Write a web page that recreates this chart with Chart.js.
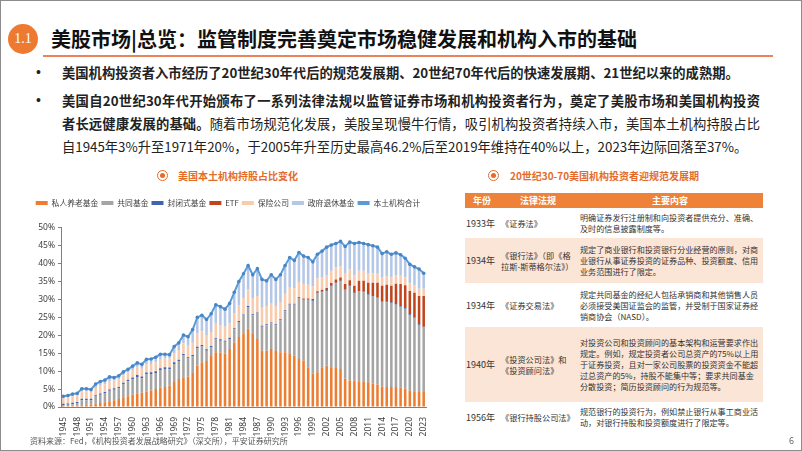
<!DOCTYPE html>
<html>
<head>
<meta charset="utf-8">
<script src="https://cdn.jsdelivr.net/npm/chart.js@4"></script>
<style>
  html, body { margin: 0; padding: 0; background: #fff; }
  body { width: 802px; height: 451px; position: relative; overflow: hidden;
         font-family: "Noto Sans CJK SC", "Noto Sans", sans-serif; color: #222; }
  #frame { position: absolute; left: 0; top: 0; width: 800px; height: 449px; border: 1px solid #8c8c8c; }
  .badge { position: absolute; left: 8px; top: 24px; width: 30px; height: 30px; border-radius: 50%;
           background: #EE7A31; color: #fff; font: 14px "Liberation Serif", serif; text-align: center; line-height: 30px; }
  .title { position: absolute; left: 51px; top: 24px; font-size: 20px; font-weight: bold; color: #111; white-space: nowrap; }
  .rule { position: absolute; left: 43px; top: 55px; width: 730px; height: 2px; background: #E8845A; }
  .dot { position: absolute; left: 36px; font: 14px "Liberation Sans", sans-serif; }
  .ln { position: absolute; left: 62px; font-size: 13.3px; line-height: 23px; white-space: nowrap; }
  .just { width: 698px; text-align: justify; text-align-last: justify; white-space: normal; }
  .b { font-weight: bold; }
  .sub { position: absolute; font-size: 10px; font-weight: bold; color: #E46C2B; white-space: nowrap; line-height: 14px; }
  .ring { position: absolute; width: 9px; height: 9px; border: 1.5px solid #E46C2B; border-radius: 50%; }
  .ring::after { content: ""; position: absolute; left: 2px; top: 2px; width: 5px; height: 5px; border-radius: 50%; background: #E46C2B; }
  #chartBox { position: absolute; left: 30px; top: 190px; width: 412px; height: 250px; }
  table { position: absolute; left: 465px; top: 193px; width: 298px; border-collapse: collapse; table-layout: fixed; }
  td, th { padding: 0; vertical-align: middle; color: #333; }
  th { background: #EE8238; color: #fff; font-size: 9px; font-weight: bold; height: 15px; text-align: center; }
  td.y { font-size: 9px; padding-left: 1px; }
  td.l { font-size: 8.2px; line-height: 11px; padding-left: 2px; white-space: nowrap; }
  td.c { font-size: 8.1px; line-height: 11px; padding-left: 3px; white-space: nowrap; }
  tr.pk td { background: #FBE5D6; }
  .foot { position: absolute; left: 30px; top: 435px; font-size: 8px; color: #555; white-space: nowrap; }
  .page { position: absolute; left: 789px; top: 434px; font-size: 9px; color: #666; }
</style>
</head>
<body>
<div id="frame"></div>
<div class="badge">1.1</div>
<div class="title">美股市场|总览：监管制度完善奠定市场稳健发展和机构入市的基础</div>
<div class="rule"></div>

<div class="dot" style="top:64px">•</div>
<div class="ln b" style="top:61px">美国机构投资者入市经历了20世纪30年代后的规范发展期、20世纪70年代后的快速发展期、21世纪以来的成熟期。</div>
<div class="dot" style="top:92px">•</div>
<div class="ln just b" style="top:89px">美国自20世纪30年代开始颁布了一系列法律法规以监管证券市场和机构投资者行为，奠定了美股市场和美国机构投资</div>
<div class="ln just" style="top:112px"><span class="b">者长远健康发展的基础。</span>随着市场规范化发展，美股呈现慢牛行情，吸引机构投资者持续入市，美国本土机构持股占比</div>
<div class="ln" style="top:135px">自1945年3%升至1971年20%，于2005年升至历史最高46.2%后至2019年维持在40%以上，2023年边际回落至37%。</div>

<div class="ring" style="left:157px; top:170px"></div>
<div class="sub" style="left:178px; top:169px">美国本土机构持股占比变化</div>
<div class="ring" style="left:488px; top:170px"></div>
<div class="sub" style="left:510px; top:169px">20世纪30-70美国机构投资者迎规范发展期</div>

<div id="chartBox"><canvas id="c"></canvas></div>

<table>
  <colgroup><col style="width:34px"><col style="width:78px"><col style="width:186px"></colgroup>
  <tr><th>年份</th><th>法律法规</th><th>主要内容</th></tr>
  <tr style="height:30px"><td class="y">1933年</td><td class="l">《证券法》</td>
    <td class="c">明确证券发行注册制和向投资者提供充分、准确、<br>及时的信息披露制度等。</td></tr>
  <tr class="pk" style="height:45px"><td class="y">1934年</td><td class="l">《银行法》（即《格<br>拉斯-斯蒂格尔法》）</td>
    <td class="c">规定了商业银行和投资银行分业经营的原则，对商<br>业银行从事证券投资的证券品种、投资额度、信用<br>业务范围进行了限定。</td></tr>
  <tr style="height:44px"><td class="y">1934年</td><td class="l">《证券交易法》</td>
    <td class="c">规定共同基金的经纪人包括承销商和其他销售人员<br>必须接受美国证监会的监管，并受制于国家证券经<br>销商协会（NASD）。</td></tr>
  <tr class="pk" style="height:75px"><td class="y">1940年</td><td class="l">《投资公司法》和<br>《投资顾问法》</td>
    <td class="c">对投资公司和投资顾问的基本架构和运营要求作出<br>规定。例如，规定投资者公司总资产的75%以上用<br>于证券投资，且对一家公司股票的投资资金不能超<br>过总资产的5%，持股不能集中等；要求共同基金<br>分散投资；简历投资顾问的行为规范等。</td></tr>
  <tr style="height:30px"><td class="y">1956年</td><td class="l">《银行持股公司法》</td>
    <td class="c">规范银行的投资行为，例如禁止银行从事工商业活<br>动，对银行持股和投资额度进行了限定等。</td></tr>
</table>

<div class="foot">资料来源：Fed，《机构投资者发展战略研究》（深交所），平安证券研究所</div>
<div class="page">6</div>

<script>
const years = ["1945","1946","1947","1948","1949","1950","1951","1952","1953","1954",
  "1955","1956","1957","1958","1959","1960","1961","1962","1963","1964",
  "1965","1966","1967","1968","1969","1970","1971","1972","1973","1974",
  "1975","1976","1977","1978","1979","1980","1981","1982","1983","1984",
  "1985","1986","1987","1988","1989","1990","1991","1992","1993","1994",
  "1995","1996","1997","1998","1999","2000","2001","2002","2003","2004",
  "2005","2006","2007","2008","2009","2010","2011","2012","2013","2014",
  "2015","2016","2017","2018","2019","2020","2021","2022","2023"];

// 私人养老基金
const pension = [0.3,0.3,0.4,0.4,0.5,0.6,0.7,0.9,1.1,1.3,
  1.6,1.9,2.2,2.5,3.0,3.5,3.8,4.0,4.3,4.6,
  5.0,5.4,5.6,5.9,7.0,7.8,8.3,8.5,9.5,11.5,
  12.5,12.8,14.2,15.3,15.2,14.9,16.2,18.0,19.5,20.6,
  21.8,20.4,19.0,15.7,15.7,16.2,15.6,15.3,15.3,15.0,
  14.4,13.4,13.0,11.1,9.3,9.7,11.1,11.6,11.1,10.9,
  10.6,7.9,7.4,7.4,7.2,7.2,6.9,6.5,6.3,5.7,
  5.6,5.6,5.6,5.4,5.1,4.6,4.4,4.4,4.2];

// 共同基金
const mutual = [0.2,0.3,0.4,0.6,1.4,1.3,1.2,2.0,2.3,2.5,
  2.9,2.9,3.0,3.9,4.2,4.2,4.6,4.0,4.8,4.6,
  4.5,4.9,5.0,4.6,5.0,5.0,6.1,5.0,4.6,4.9,
  4.4,2.9,2.4,3.5,3.3,3.3,2.8,3.7,4.2,4.9,
  6.1,5.2,7.1,6.7,7.1,7.1,7.2,8.9,11.4,13.5,
  14.1,17.0,16.9,18.8,20.3,22.0,20.9,20.8,22.5,23.6,
  24.4,24.8,26.2,24.3,25.0,24.8,24.4,24.3,24.2,23.7,
  23.6,23.4,22.9,22.6,22.3,21.1,20.4,18.5,18.0];

// 封闭式基金
const closedEnd = [0.4,0.4,0.4,0.4,0.4,0.4,0.4,0.4,0.4,0.4,
  0.4,0.4,0.4,0.4,0.4,0.5,0.5,0.5,0.5,0.5,
  0.5,0.5,0.5,0.5,0.5,0.4,0.4,0.4,0.4,0.4,
  0.4,0.4,0.4,0.4,0.4,0.3,0.3,0.3,0.3,0.3,
  0.3,0.3,0.3,0.3,0.3,0.3,0.3,0.3,0.3,0.2,
  0.2,0.2,0.2,0.2,0.2,0.2,0.2,0.2,0.2,0.2,
  0.2,0.2,0.2,0.2,0.2,0.2,0.2,0.2,0.2,0.2,
  0.2,0.2,0.2,0.2,0.2,0.2,0.2,0.2,0.2];

// ETF
const etf = [0,0,0,0,0,0,0,0,0,0,
  0,0,0,0,0,0,0,0,0,0,
  0,0,0,0,0,0,0,0,0,0,
  0,0,0,0,0,0,0,0,0,0,
  0,0,0,0,0,0,0,0,0,0.1,
  0.1,0.1,0.2,0.2,0.3,0.4,0.5,0.6,0.8,0.9,
  0.9,1.4,1.6,1.9,2.8,3.0,3.2,3.7,4.0,4.2,
  4.7,4.6,5.7,6.1,6.4,6.5,6.9,7.9,8.6];

// 保险公司
const insurance = [1.6,1.7,1.8,1.8,2.0,2.0,1.9,2.0,2.1,2.1,
  2.2,2.1,2.1,2.0,2.0,2.1,2.2,2.2,2.3,2.3,
  2.4,2.4,2.4,2.5,2.6,2.7,3.0,3.2,3.4,3.8,
  3.8,3.8,3.9,4.0,4.0,3.9,4.0,4.2,4.4,4.6,
  4.6,4.5,4.6,5.0,5.1,5.2,5.0,4.8,4.6,4.5,
  4.3,4.2,4.0,3.8,3.6,3.6,3.6,3.5,3.4,3.3,
  3.2,3.1,3.0,2.9,2.8,2.8,2.7,2.6,2.5,2.5,
  2.4,2.4,2.3,2.3,2.2,2.1,2.0,2.0,2.0];

// 政府退休基金
const govRetire = [0.5,0.5,0.6,0.6,0.8,0.8,0.7,1.1,1.2,1.2,
  1.3,0.9,1.0,1.0,0.9,1.1,1.2,1.2,1.4,1.4,
  1.5,1.5,1.2,1.1,1.8,2.0,2.3,2.5,3.7,4.4,
  4.5,4.5,5.1,5.3,5.1,4.9,5.6,5.8,6.6,6.8,
  6.7,6.5,7.6,7.9,7.0,8.1,7.5,7.6,7.9,8.4,
  7.8,8.2,7.8,7.6,6.8,6.7,7.2,7.9,7.2,6.7,
  6.9,7.4,7.6,8.9,7.9,7.6,7.9,7.7,7.4,6.5,
  6.8,6.4,6.3,5.9,5.3,5.3,5.2,5.5,4.3];

// 本土机构合计
const total = [3.0,3.2,3.6,3.8,5.1,5.1,4.9,6.4,7.1,7.5,
  8.4,8.2,8.7,9.8,10.5,11.4,12.3,11.9,13.3,13.4,
  13.9,14.7,14.7,14.6,16.9,17.9,20.1,19.6,21.6,25.0,
  25.6,24.4,26.0,28.5,28.0,27.3,28.9,32.0,35.0,37.2,
  39.5,36.9,38.6,35.6,35.2,36.9,35.6,36.9,39.5,41.7,
  40.9,43.1,42.1,41.7,40.5,42.6,43.5,44.6,45.2,45.6,
  46.2,44.8,46.0,45.6,45.9,45.6,45.3,45.0,44.6,42.8,
  43.3,42.6,43.0,42.5,41.5,39.8,39.1,38.5,37.3];

const yTicks = ["0%","5%","10%","15%","20%","25%","30%","35%","40%","45%","50%"];

Chart.defaults.font.family = '"Noto Sans CJK SC", "Noto Sans", sans-serif';
Chart.defaults.color = "#404040";

function barSet(label, data, color) {
  return {
    type: "bar",
    label: label,
    data: data,
    backgroundColor: color,
    borderWidth: 0,
    stack: "s",
    order: 1,
    barPercentage: 0.55,
    categoryPercentage: 1.0
  };
}

// leave a gap between the legend and the plot, like the original
const legendGap = {
  id: "legendGap",
  beforeInit(chart) {
    const fit = chart.legend.fit;
    chart.legend.fit = function () {
      fit.call(this);
      this.height += 11;
    };
  }
};

const ctx = document.getElementById("c").getContext("2d");
new Chart(ctx, {
  data: {
    labels: years,
    datasets: [
      barSet("私人养老基金", pension, "#ED7D31"),
      barSet("共同基金", mutual, "#A5A5A5"),
      barSet("封闭式基金", closedEnd, "#3F64B0"),
      barSet("ETF", etf, "#C0441C"),
      barSet("保险公司", insurance, "#F8CBAD"),
      barSet("政府退休基金", govRetire, "#B4C7E7"),
      {
        type: "line",
        label: "本土机构合计",
        data: total,
        borderColor: "#5B9BD5",
        backgroundColor: "#5B9BD5",
        borderWidth: 2,
        pointRadius: 1.8,
        pointBackgroundColor: "#4A86C5",
        pointBorderWidth: 0,
        tension: 0,
        stack: "total",
        order: 0
      }
    ]
  },
  plugins: [legendGap],
  options: {
    responsive: true,
    maintainAspectRatio: false,
    animation: false,
    layout: { padding: { top: 6, right: 16, left: 0, bottom: 0 } },
    plugins: {
      tooltip: { enabled: false },
      legend: {
        position: "top",
        labels: {
          boxWidth: 12,
          boxHeight: 4,
          padding: 3,
          font: { size: 7.8 },
          color: "#404040",
          sort: (a, b) => a.datasetIndex - b.datasetIndex,
          generateLabels(chart) {
            const items = Chart.defaults.plugins.legend.labels.generateLabels(chart);
            items.forEach(it => { it.lineWidth = 0; });
            return items;
          }
        }
      }
    },
    scales: {
      x: {
        stacked: true,
        grid: { display: false },
        border: { display: true, color: "#7f7f7f" },
        ticks: {
          autoSkip: false,
          minRotation: 90,
          maxRotation: 90,
          padding: 2,
          font: { size: 8.5, family: '"Noto Sans", sans-serif' },
          callback: function (v, i) { return i % 3 === 0 ? this.getLabelForValue(v) : ""; }
        },
        afterFit(s) { s.height = 33; }
      },
      y: {
        stacked: true,
        min: 0,
        max: 50,
        grid: { display: true, drawOnChartArea: false, tickLength: 3, color: "#7f7f7f" },
        border: { display: true, color: "#7f7f7f" },
        ticks: {
          stepSize: 5,
          padding: 3,
          font: { size: 8.5, family: '"Noto Sans", sans-serif' },
          callback: function (v) { return yTicks[Math.round(v / 5)]; }
        },
        afterFit(s) { s.width = 31; }
      }
    }
  }
});
</script>
</body>
</html>
